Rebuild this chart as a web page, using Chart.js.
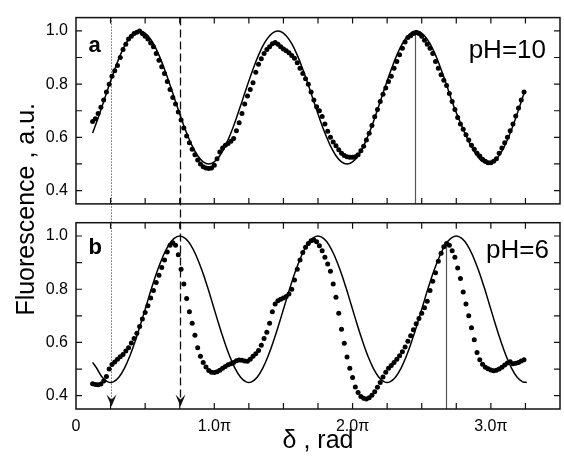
<!DOCTYPE html>
<html>
<head>
<meta charset="utf-8">
<script src="https://cdn.jsdelivr.net/npm/chart.js@4.4.0/dist/chart.umd.min.js"></script>
<style>
html,body{margin:0;padding:0;background:#fff;}
#wrap{width:564px;height:460px;position:relative;}
</style>
</head>
<body>
<div id="wrap"><canvas id="c" width="564" height="460"></canvas></div>
<script>
// ---- data (x in units of pi) ----
const dataX = [
0.12,0.14,0.16,0.18,0.20,0.22,0.24,0.26,0.28,0.30,
0.32,0.34,0.36,0.38,0.40,0.42,0.44,0.46,0.48,0.50,
0.52,0.54,0.56,0.58,0.60,0.62,0.64,0.66,0.68,0.70,
0.72,0.74,0.76,0.78,0.80,0.82,0.84,0.86,0.88,0.90,
0.92,0.94,0.96,0.98,1.00,1.02,1.04,1.06,1.08,1.10,
1.12,1.14,1.16,1.18,1.20,1.22,1.24,1.26,1.28,1.30,
1.32,1.34,1.36,1.38,1.40,1.42,1.44,1.46,1.48,1.50,
1.52,1.54,1.56,1.58,1.60,1.62,1.64,1.66,1.68,1.70,
1.72,1.74,1.76,1.78,1.80,1.82,1.84,1.86,1.88,1.90,
1.92,1.94,1.96,1.98,2.00,2.02,2.04,2.06,2.08,2.10,
2.12,2.14,2.16,2.18,2.20,2.22,2.24,2.26,2.28,2.30,
2.32,2.34,2.36,2.38,2.40,2.42,2.44,2.46,2.48,2.50,
2.52,2.54,2.56,2.58,2.60,2.62,2.64,2.66,2.68,2.70,
2.72,2.74,2.76,2.78,2.80,2.82,2.84,2.86,2.88,2.90,
2.92,2.94,2.96,2.98,3.00,3.02,3.04,3.06,3.08,3.10,
3.12,3.14,3.16,3.18,3.20,3.22,3.24];

const dataPH10 = [
0.66,0.67,0.69,0.713,0.74,0.77,0.80,0.83,0.85,0.87,
0.90,0.93,0.95,0.97,0.98,0.99,0.995,1.0,0.99,0.98,
0.97,0.955,0.94,0.915,0.89,0.865,0.84,0.81,0.78,0.75,
0.725,0.695,0.665,0.635,0.605,0.58,0.555,0.535,0.515,0.50,
0.49,0.485,0.483,0.485,0.495,0.52,0.545,0.56,0.57,0.577,
0.585,0.596,0.625,0.655,0.69,0.725,0.755,0.78,0.805,0.845,
0.875,0.895,0.915,0.93,0.94,0.952,0.956,0.95,0.94,0.932,
0.925,0.918,0.908,0.897,0.88,0.86,0.84,0.82,0.80,0.77,
0.74,0.715,0.70,0.678,0.65,0.623,0.60,0.583,0.568,0.553,
0.54,0.532,0.527,0.525,0.525,0.527,0.535,0.55,0.567,0.59,
0.615,0.645,0.677,0.705,0.735,0.762,0.785,0.81,0.83,0.86,
0.885,0.91,0.935,0.958,0.975,0.982,0.99,0.994,0.99,0.98,
0.965,0.95,0.935,0.915,0.885,0.86,0.835,0.815,0.795,0.765,
0.735,0.705,0.675,0.65,0.63,0.61,0.59,0.57,0.555,0.54,
0.53,0.518,0.51,0.505,0.505,0.51,0.52,0.54,0.56,0.58,
0.60,0.625,0.65,0.68,0.71,0.74,0.77];

const dataPH6 = [
0.445,0.442,0.441,0.444,0.455,0.472,0.50,0.517,0.527,0.537,
0.546,0.555,0.568,0.58,0.598,0.615,0.635,0.66,0.688,0.713,
0.738,0.767,0.795,0.825,0.853,0.882,0.91,0.94,0.965,0.975,
0.965,0.93,0.875,0.82,0.765,0.715,0.672,0.627,0.58,0.548,
0.525,0.508,0.495,0.488,0.487,0.49,0.496,0.503,0.51,0.516,
0.52,0.525,0.531,0.534,0.533,0.53,0.529,0.537,0.548,0.558,
0.57,0.59,0.615,0.638,0.672,0.715,0.745,0.757,0.762,0.767,
0.773,0.782,0.80,0.835,0.875,0.91,0.938,0.958,0.972,0.982,
0.985,0.978,0.963,0.945,0.92,0.895,0.868,0.82,0.77,0.71,
0.65,0.597,0.545,0.503,0.468,0.433,0.412,0.397,0.39,0.388,
0.392,0.402,0.415,0.432,0.45,0.47,0.488,0.503,0.513,0.525,
0.537,0.55,0.565,0.583,0.605,0.625,0.648,0.67,0.69,0.71,
0.73,0.755,0.795,0.83,0.862,0.905,0.935,0.96,0.972,0.965,
0.945,0.92,0.88,0.84,0.79,0.745,0.70,0.655,0.61,0.562,
0.535,0.518,0.507,0.501,0.497,0.494,0.496,0.50,0.507,0.515,
0.523,0.528,0.52,0.522,0.525,0.53,0.535];

const fitX10 = [
0.12,0.16,0.20,0.24,0.28,0.32,0.36,0.40,0.44,0.48,
0.52,0.56,0.60,0.64,0.68,0.72,0.76,0.80,0.84,0.88,
0.92,0.96,1.00,1.04,1.08,1.12,1.16,1.20,1.24,1.28,
1.32,1.36,1.40,1.44,1.48,1.52,1.56,1.60,1.64,1.68,
1.72,1.76,1.80,1.84,1.88,1.92,1.96,2.00,2.04,2.08,
2.12,2.16,2.20,2.24,2.28,2.32,2.36,2.40,2.44,2.48,
2.52,2.56,2.60,2.64,2.68,2.72,2.76,2.80,2.84,2.88,
2.92,2.96,3.00,3.04,3.08,3.12,3.16,3.20,3.24];
const fitPH10 = [
0.616,0.673,0.734,0.797,0.856,0.909,0.952,0.982,0.998,0.998,
0.982,0.952,0.909,0.856,0.797,0.734,0.673,0.616,0.568,0.531,
0.508,0.500,0.508,0.531,0.568,0.616,0.673,0.734,0.797,0.856,
0.909,0.952,0.982,0.998,0.998,0.982,0.952,0.909,0.856,0.797,
0.734,0.673,0.616,0.568,0.531,0.508,0.500,0.508,0.531,0.568,
0.616,0.673,0.734,0.797,0.856,0.909,0.952,0.982,0.998,0.998,
0.982,0.952,0.909,0.856,0.797,0.734,0.68,0.63,0.585,0.547,
0.518,0.503,0.502,0.518,0.548,0.591,0.644,0.703,0.766];

const fitX6 = [
0.12,0.15,0.19,0.23,
0.27,0.31,0.35,0.39,0.43,0.47,0.51,0.55,0.59,0.63,0.67,0.71,0.75,0.79,0.83,0.87,0.91,0.95,0.99,1.03,1.07,1.11,1.15,1.19,1.23,
1.27,1.31,1.35,1.39,1.43,1.47,1.51,1.55,1.59,1.63,1.67,1.71,1.75,1.79,1.83,1.87,1.91,1.95,1.99,2.03,2.07,2.11,2.15,2.19,2.23,
2.27,2.31,2.35,2.39,2.43,2.47,2.51,2.55,2.59,2.63,2.67,2.71,2.75,2.79,2.83,2.87,2.91,2.95,2.99,3.03,3.07,3.11,3.15,3.19,3.23,
3.26];
const fitPH6 = [
0.525,0.503,0.469,0.452,
0.452,0.469,0.503,0.550,0.608,0.673,0.742,0.810,0.872,0.925,0.966,0.991,1.000,0.991,0.966,0.925,0.872,0.810,0.742,0.673,0.608,0.550,0.503,0.469,0.452,
0.452,0.469,0.503,0.550,0.608,0.673,0.742,0.810,0.872,0.925,0.966,0.991,1.000,0.991,0.966,0.925,0.872,0.810,0.742,0.673,0.608,0.550,0.503,0.469,0.452,
0.452,0.469,0.503,0.550,0.608,0.673,0.742,0.810,0.872,0.925,0.966,0.991,1.000,0.991,0.966,0.925,0.872,0.810,0.742,0.673,0.608,0.550,0.503,0.469,0.452,
0.450];

// ---- ticks & labels ----
const xTickValues = [0, 1, 2, 3];
const xTickLabels = ['0', '1.0\u03C0', '2.0\u03C0', '3.0\u03C0'];
const xMinorTicks = [0.25,0.5,0.75,1,1.25,1.5,1.75,2,2.25,2.5,2.75,3,3.25];
const yTickValues = [0.4, 0.6, 0.8, 1.0];
const yTickLabels = ['0.4', '0.6', '0.8', '1.0'];
const yMinorTicks = [0.4,0.5,0.6,0.7,0.8,0.9,1.0];
const panelLetters = ['a', 'b'];
const panelPH = ['pH=10', 'pH=6'];
const xTitle = '\u03B4 , rad';
const yTitle = 'Fluorescence , a.u.';
const markerLines = [0.25, 0.75];               // dotted, dashed (with arrows)
const peakLines = [{x: 2.455, y: 0.995}, {x: 2.675, y: 0.975}];

const FONT = "Arial, 'Liberation Sans', sans-serif";
const pts = (xs, ys) => xs.map((x, i) => ({x: x, y: ys[i]}));

const decor = {
  id: 'decor',
  beforeDatasetsDraw(chart) {
    const ctx = chart.ctx;
    const x = chart.scales.x, yA = chart.scales.yA, yB = chart.scales.yB;
    ctx.save();
    const apex = yB.bottom - 2.5;
    markerLines.forEach((v, i) => {
      const px = Math.round(x.getPixelForValue(v)) + 0.5;
      ctx.beginPath();
      ctx.setLineDash(i === 0 ? [1, 2] : [8, 4]);
      ctx.lineWidth = i === 0 ? 1 : 1.3;
      ctx.strokeStyle = i === 0 ? '#222' : '#111';
      ctx.moveTo(px, yA.top);
      ctx.lineTo(px, apex - 6);
      ctx.stroke();
      ctx.setLineDash([]);
      ctx.beginPath();
      ctx.fillStyle = '#111';
      ctx.moveTo(px, apex);
      ctx.lineTo(px - 5, apex - 12);
      ctx.lineTo(px, apex - 7);
      ctx.lineTo(px + 5, apex - 12);
      ctx.closePath();
      ctx.fill();
    });
    [yA, yB].forEach((ys, i) => {
      const px = Math.round(x.getPixelForValue(peakLines[i].x)) + 0.5;
      ctx.beginPath();
      ctx.strokeStyle = '#555';
      ctx.lineWidth = 1.2;
      ctx.moveTo(px, ys.getPixelForValue(peakLines[i].y));
      ctx.lineTo(px, ys.bottom);
      ctx.stroke();
    });
    ctx.restore();
  },
  afterDraw(chart) {
    const ctx = chart.ctx;
    const x = chart.scales.x, yA = chart.scales.yA, yB = chart.scales.yB;
    ctx.save();
    [yA, yB].forEach((ys, i) => {
      const L = x.left, R = x.right, T = ys.top, B = ys.bottom;
      ctx.strokeStyle = '#111';
      ctx.lineWidth = 1.5;
      ctx.strokeRect(L, T, R - L, B - T);
      ctx.beginPath();
      ctx.lineWidth = 1.2;
      xMinorTicks.forEach(v => {
        const p = x.getPixelForValue(v);
        ctx.moveTo(p, T); ctx.lineTo(p, T + 6);
        ctx.moveTo(p, B); ctx.lineTo(p, B - 6);
      });
      yMinorTicks.forEach(v => {
        const p = ys.getPixelForValue(v);
        ctx.moveTo(L, p); ctx.lineTo(L + 6, p);
        ctx.moveTo(R, p); ctx.lineTo(R - 6, p);
      });
      ctx.stroke();
      ctx.fillStyle = '#000';
      ctx.textBaseline = 'alphabetic';
      ctx.textAlign = 'left';
      ctx.font = 'bold 22px ' + FONT;
      ctx.fillText(panelLetters[i], L + 12.5, T + (i === 0 ? 34 : 31));
      ctx.textAlign = 'right';
      ctx.font = '26px ' + FONT;
      ctx.fillText(panelPH[i], R - (i === 0 ? 14 : 11), T + (i === 0 ? 40 : 35.5));
    });
    // y axis title spanning both panels
    ctx.translate(27, (yA.top + yB.bottom) / 2 - 4);
    ctx.rotate(-Math.PI / 2);
    ctx.textAlign = 'center';
    ctx.textBaseline = 'middle';
    ctx.font = '25px ' + FONT;
    ctx.fillText(yTitle, 0, 0);
    ctx.restore();
  }
};

const yCommon = (weight, stackWeight) => ({
  type: 'linear', position: 'left', stack: 'v', stackWeight: stackWeight, weight: weight,
  min: 0.35, max: 1.05,
  grid: {display: false, drawTicks: false},
  border: {display: false},
  afterBuildTicks: s => { s.ticks = yTickValues.map(v => ({value: v})); },
  ticks: {
    callback: (v, i) => yTickLabels[i],
    font: {family: FONT, size: 16}, color: '#000', padding: 8
  },
  afterFit: s => { s.width = 76; }
});

new Chart(document.getElementById('c'), {
  type: 'scatter',
  data: {
    datasets: [
      {data: pts(dataX, dataPH10), yAxisID: 'yA', showLine: false, pointRadius: 2.5,
       pointBackgroundColor: '#000', pointBorderWidth: 0, order: 1},
      {data: pts(fitX10, fitPH10), yAxisID: 'yA', showLine: true, pointRadius: 0,
       borderColor: '#000', borderWidth: 1.5, tension: 0.4, order: 2},
      {data: pts(dataX, dataPH6), yAxisID: 'yB', showLine: false, pointRadius: 2.5,
       pointBackgroundColor: '#000', pointBorderWidth: 0, order: 1},
      {data: pts(fitX6, fitPH6), yAxisID: 'yB', showLine: true, pointRadius: 0,
       borderColor: '#000', borderWidth: 1.5, tension: 0.4, order: 2}
    ]
  },
  options: {
    responsive: false,
    animation: false,
    devicePixelRatio: 1,
    layout: {padding: {top: 14, right: 1, bottom: 0, left: 0}},
    plugins: {legend: {display: false}, tooltip: {enabled: false}},
    scales: {
      x: {
        type: 'linear', min: 0, max: 3.5,
        grid: {display: false, drawTicks: false},
        border: {display: false},
        afterBuildTicks: s => { s.ticks = xTickValues.map(v => ({value: v})); },
        ticks: {
          callback: (v, i) => xTickLabels[i],
          autoSkip: false, maxRotation: 0,
          font: {family: FONT, size: 16}, color: '#000', padding: 8
        },
        title: {display: true, text: xTitle, color: '#000',
                font: {family: FONT, size: 25}, padding: {top: 0, bottom: 4}},
        afterFit: s => { s.height = 51; }
      },
      yA: yCommon(3, 188),
      ySp: {
        type: 'linear', position: 'left', stack: 'v', stackWeight: 19, weight: 2,
        grid: {display: false, drawTicks: false},
        border: {display: false},
        ticks: {display: false},
        afterFit: s => { s.width = 76; }
      },
      yB: yCommon(1, 188)
    }
  },
  plugins: [decor]
});
</script>
</body>
</html>
